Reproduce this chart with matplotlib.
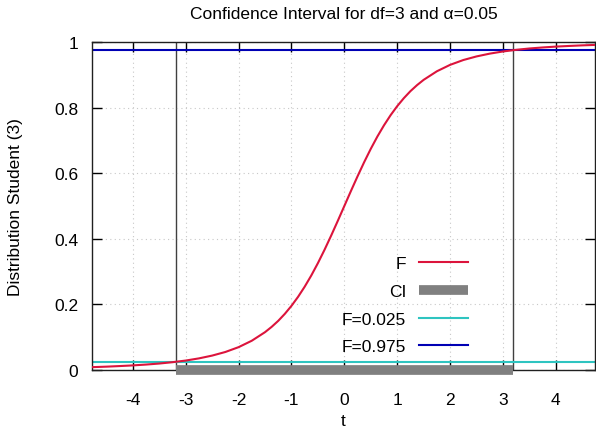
import matplotlib
matplotlib.use("Agg")
import matplotlib.pyplot as plt

plt.rcParams["font.family"] = ["Liberation Sans", "DejaVu Sans"]

# Student t (df=3) CDF
t_vals = [-4.75, -4.5, -4.25, -4.0, -3.75, -3.5, -3.25, -3.0, -2.75, -2.5, -2.25,
          -2.0, -1.75, -1.5, -1.375, -1.25, -1.125, -1.0, -0.875, -0.75, -0.625,
          -0.5, -0.375, -0.25, -0.125, 0.0,
          0.125, 0.25, 0.375, 0.5, 0.625, 0.75, 0.875, 1.0, 1.125, 1.25, 1.375,
          1.5, 1.75, 2.0, 2.25, 2.5, 2.75,
          3.0, 3.25, 3.5, 3.75, 4.0, 4.25, 4.5, 4.75]
F_vals = [0.0088, 0.0102, 0.0120, 0.0140, 0.0166, 0.0197, 0.0238, 0.0288, 0.0354, 0.0439, 0.0549,
          0.0696, 0.0892, 0.1153, 0.1314, 0.1498, 0.1712, 0.1955, 0.2230, 0.2539, 0.2881,
          0.3257, 0.3663, 0.4094, 0.4542, 0.5,
          0.5458, 0.5906, 0.6337, 0.6743, 0.7119, 0.7461, 0.7770, 0.8045, 0.8288, 0.8502, 0.8686,
          0.8847, 0.9108, 0.9304, 0.9451, 0.9561, 0.9646,
          0.9712, 0.9762, 0.9803, 0.9834, 0.9860, 0.9880, 0.9898, 0.9912]

t_crit = [-3.182, 3.182]
levels = [0.025, 0.975]
xlim = (-4.77, 4.74)

fig = plt.figure(figsize=(5.96, 4.31), dpi=100)
ax = fig.add_axes([0.1544, 0.1392, 0.8440, 0.7610])

ax.plot(t_vals, F_vals, color="#dc143c", lw=1.5, label="F", zorder=4)
ax.plot(t_crit, [0, 0], color="#808080", lw=7, solid_capstyle="butt",
        label="CI", clip_on=False, zorder=3)
ax.axhline(levels[0], color="#2ec4c0", lw=1.5, label="F=0.025", zorder=2)
ax.axhline(levels[1], color="#0000b4", lw=1.5, label="F=0.975", zorder=2)
for tc in t_crit:
    ax.axvline(tc, color="#404040", lw=1, zorder=1)

ax.set_xlim(*xlim)
ax.set_ylim(0, 1)
ax.set_xticks([-4, -3, -2, -1, 0, 1, 2, 3, 4])
ax.set_xticklabels(["-4", "-3", "-2", "-1", "0", "1", "2", "3", "4"])
ax.set_yticks([0, 0.2, 0.4, 0.6, 0.8, 1])
ax.set_yticklabels(["0", "0.2", "0.4", "0.6", "0.8", "1"])
ax.tick_params(direction="in", length=7, width=1, top=True, right=True,
               labelsize=12.5)
ax.tick_params(axis="x", pad=16)
ax.tick_params(axis="y", pad=10)
ax.grid(True, color="#c8c8c8", linestyle=(0, (1, 3)), lw=0.8)
for s in ax.spines.values():
    s.set_color("#202020")
    s.set_linewidth(1)

ax.set_title("Confidence Interval for df=3 and \u03b1=0.05", fontsize=12.5, pad=17)
ax.set_xlabel("t", fontsize=12.5, labelpad=4)
ax.set_ylabel("Distribution Student (3)", fontsize=12.5, labelpad=22)

leg = ax.legend(loc="lower right", bbox_to_anchor=(0.778, 0.0), frameon=False,
                markerfirst=False, fontsize=12.5, handlelength=2.8,
                labelspacing=0.72, handletextpad=0.75)
for txt in leg.get_texts():
    txt.set_ha("right")
leg._legend_box.align = "right"

fig.savefig("out.png", dpi=100)
